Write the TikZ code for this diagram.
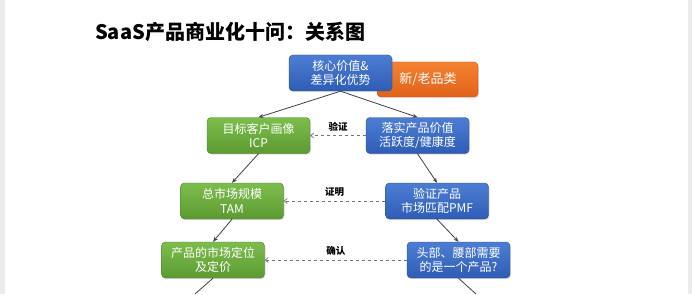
\documentclass[tikz,border=0pt]{standalone}
\usepackage{fontspec}
\setmainfont{Noto Sans CJK SC}
\usetikzlibrary{shadows,arrows.meta}
\definecolor{bluetop}{HTML}{4D7DD3}
\definecolor{bluebot}{HTML}{2F5DB6}
\definecolor{greentop}{HTML}{7DBD4C}
\definecolor{greenbot}{HTML}{5C9A32}
\definecolor{orangetop}{HTML}{F58232}
\definecolor{orangebot}{HTML}{E0621A}
\begin{document}
\begin{tikzpicture}[x=1pt, y=-1pt,
        b/.style={rectangle, rounded corners=4pt, minimum width=103pt, minimum height=36pt,
                  align=center, text=white, inner sep=2pt, font=\fontsize{12}{14.5}\selectfont,
                  drop shadow={opacity=0.25, shadow xshift=1pt, shadow yshift=-1.2pt}},
        bb/.style={b, top color=bluetop, bottom color=bluebot, draw=bluebot!80!black},
        gb/.style={b, top color=greentop, bottom color=greenbot, draw=greenbot!80!black},
        ob/.style={b, top color=orangetop, bottom color=orangebot, draw=orangebot!85!black},
        arr/.style={draw=black!75, line width=0.8pt, -{Stealth[length=5pt, width=4pt]}},
        dasharr/.style={draw=black!55, dashed, line width=0.7pt, -{Straight Barb[length=3pt, width=5pt]}},
        lbl/.style={font=\fontsize{9.5}{11}\selectfont\bfseries, text=black, inner sep=1pt}
    ]
        \useasboundingbox (0,0) rectangle (692,294);
        \fill[black!8] (0,0) rectangle (5,294);
        \fill[black!8] (688,0) rectangle (692,294);
        \node[anchor=west, font=\fontsize{20}{24}\selectfont\bfseries, inner sep=0pt] (title) at (95,32) {SaaS产品商业化十问：关系图};

        \node[ob, minimum width=101pt, minimum height=35pt, font=\fontsize{13}{15}\selectfont] (cat) at (427.5,79.5) {\hspace*{1pt}新/老品类};
        \node[bb] (core) at (340.5,73)   {核心价值\&\\差异化优势};
        \node[gb] (icp)  at (258.5,135.5) {目标客户画像\\ICP};
        \node[bb] (act)  at (417.5,135.5) {落实产品价值\\活跃度/健康度};
        \node[gb] (tam)  at (232,201)     {总市场规模\\TAM};
        \node[bb] (pmf)  at (437,201)     {验证产品\\市场匹配PMF};
        \node[gb] (pos)  at (213,260)     {产品的市场定位\\及定价};
        \node[bb] (head) at (458.5,260)   {头部、腰部需要\\的是一个产品?};
        \coordinate (posout)  at (195,294);
        \coordinate (headout) at (476,294);

        \draw[arr] (core.south) -- (icp.north);
        \draw[arr] (core.south) -- (act.north);
        \draw[arr] (icp.south) -- (tam.north);
        \draw[arr] (tam.south) -- (pos.north);
        \draw[arr] (act.south) -- (pmf.north);
        \draw[arr] (pmf.south) -- (head.north);
        \draw[draw=black!75, line width=0.8pt] (pos.south) -- (posout);
        \draw[draw=black!75, line width=0.8pt] (head.south) -- (headout);

        \draw[dasharr] (act.west) -- node[lbl, above=3pt] {验证} (icp.east);
        \draw[dasharr] (pmf.west) -- node[lbl, above=3pt] {证明} (tam.east);
        \draw[dasharr] (head.west) -- node[lbl, above=3pt] {确认} (pos.east);
    \end{tikzpicture}
\end{document}
